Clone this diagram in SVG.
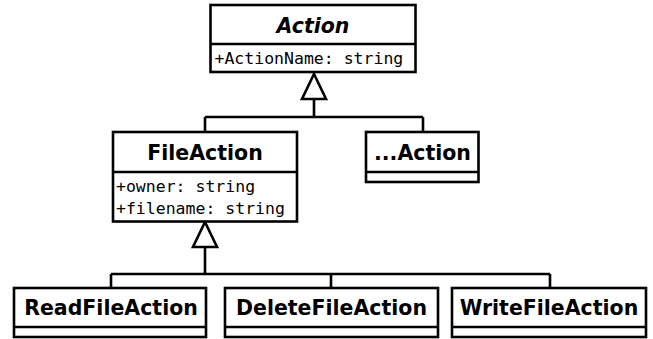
<svg xmlns="http://www.w3.org/2000/svg" width="653" height="339" viewBox="0 0 653 339">
<style>
.box{fill:#fff;stroke:#000;stroke-width:2.6}
.ln{fill:none;stroke:#000;stroke-width:2.6}
.tri{fill:#fff;stroke:#000;stroke-width:2.6;stroke-linejoin:miter}
.t{font-family:"DejaVu Sans",sans-serif;font-weight:bold;font-size:20.5px;text-anchor:middle;fill:#000}
.ti{font-style:italic}
.a{font-family:"DejaVu Sans Mono",monospace;font-size:16.5px;fill:#000}
</style>
<rect width="653" height="339" fill="#fff"/>
<g id="connectors">
<path class="ln" d="M314,99 V117 M205,117 H423 M205,117 V132 M423,117 V132"/>
<path class="tri" d="M314,74 L326,99 L302,99 Z"/>
<path class="ln" d="M205,247 V274 M111,274 H550 M111,274 V288 M331,274 V288 M550,274 V288"/>
<path class="tri" d="M205,222 L217,247 L193,247 Z"/>
</g>
<g id="Action">
<rect class="box" x="210.5" y="5" width="205" height="67"/>
<line class="ln" x1="210.5" y1="44" x2="415.5" y2="44"/>
<text class="t ti" x="313" y="33">Action</text>
<text class="a" x="214.5" y="64">+ActionName: string</text>
</g>
<g id="FileAction">
<rect class="box" x="113" y="132" width="184" height="89.5"/>
<line class="ln" x1="113" y1="172" x2="297" y2="172"/>
<text class="t" x="205" y="160">FileAction</text>
<text class="a" x="116" y="192">+owner: string</text>
<text class="a" x="116" y="214">+filename: string</text>
</g>
<g id="OtherAction">
<rect class="box" x="366" y="132" width="112.5" height="50"/>
<line class="ln" x1="366" y1="172" x2="478.5" y2="172"/>
<text class="t" x="422.5" y="160">...Action</text>
</g>
<g id="ReadFileAction">
<rect class="box" x="14" y="288" width="192" height="49"/>
<line class="ln" x1="14" y1="327" x2="206" y2="327"/>
<text class="t" x="111" y="315">ReadFileAction</text>
</g>
<g id="DeleteFileAction">
<rect class="box" x="225" y="288" width="213" height="49"/>
<line class="ln" x1="225" y1="327" x2="438" y2="327"/>
<text class="t" x="331.5" y="315">DeleteFileAction</text>
</g>
<g id="WriteFileAction">
<rect class="box" x="452" y="288" width="194" height="49"/>
<line class="ln" x1="452" y1="327" x2="646" y2="327"/>
<text class="t" x="549" y="315">WriteFileAction</text>
</g>
</svg>
